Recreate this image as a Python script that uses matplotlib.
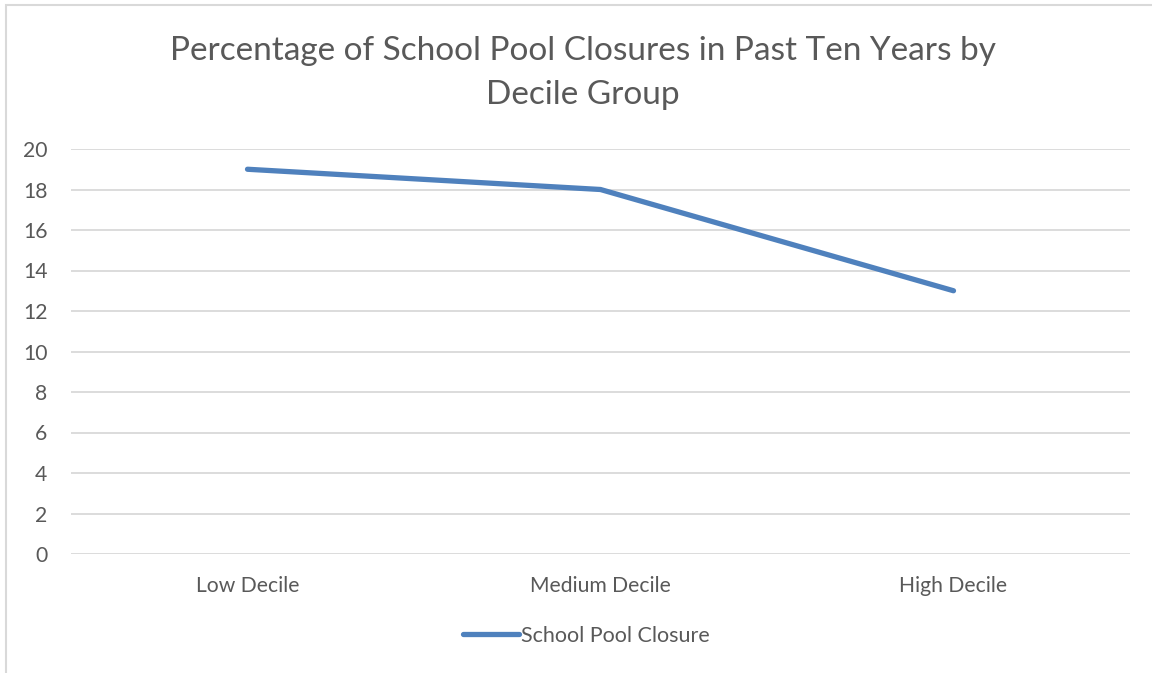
import matplotlib.pyplot as plt
from matplotlib.patches import Rectangle

categories = ["Low Decile", "Medium Decile", "High Decile"]
closures = [19, 18, 13]
series_name = "School Pool Closure"
yticks = [0, 2, 4, 6, 8, 10, 12, 14, 16, 18, 20]

txt = "#595959"
plt.rcParams['font.family'] = ['Lato', 'DejaVu Sans']

fig = plt.figure(figsize=(11.52, 6.73), dpi=100)
ax = fig.add_axes([71 / 1152, 1 - 554 / 673, (1130 - 71) / 1152, (554 - 149) / 673])

x = range(len(categories))
ax.plot(x, closures, color="#4f81bd", lw=3.8, solid_capstyle="round",
        solid_joinstyle="round", label=series_name, zorder=3)

ax.set_xlim(-0.5, len(categories) - 0.5)
ax.set_ylim(0, 20)
ax.set_yticks(yticks)
ax.set_xticks(list(x))
ax.set_xticklabels(categories)
ax.grid(axis="y", color="#d9d9d9", lw=1.3)
ax.set_axisbelow(True)
for s in ax.spines.values():
    s.set_visible(False)
ax.tick_params(length=0, labelsize=15.2, colors=txt)
ax.tick_params(axis="y", pad=17)
ax.tick_params(axis="x", pad=16)

fig.text(0.506, 1 - 73 / 673, "Percentage of School Pool Closures in Past Ten Years by\nDecile Group",
         ha="center", va="center", fontsize=24, color=txt, linespacing=1.55)

leg = fig.legend(loc="center", bbox_to_anchor=(0.509, 1 - 636 / 673), frameon=False,
                 fontsize=15.5, handlelength=2.6, handletextpad=0.1)
for t in leg.get_texts():
    t.set_color(txt)

# chart border (cropped on right/bottom)
fig.patches.append(Rectangle((6 / 1152, -0.1), 1.2, 1 - 5 / 673 + 0.1, transform=fig.transFigure,
                             fill=False, edgecolor="#d9d9d9", lw=1.5))

fig.savefig("out.png", dpi=100)
